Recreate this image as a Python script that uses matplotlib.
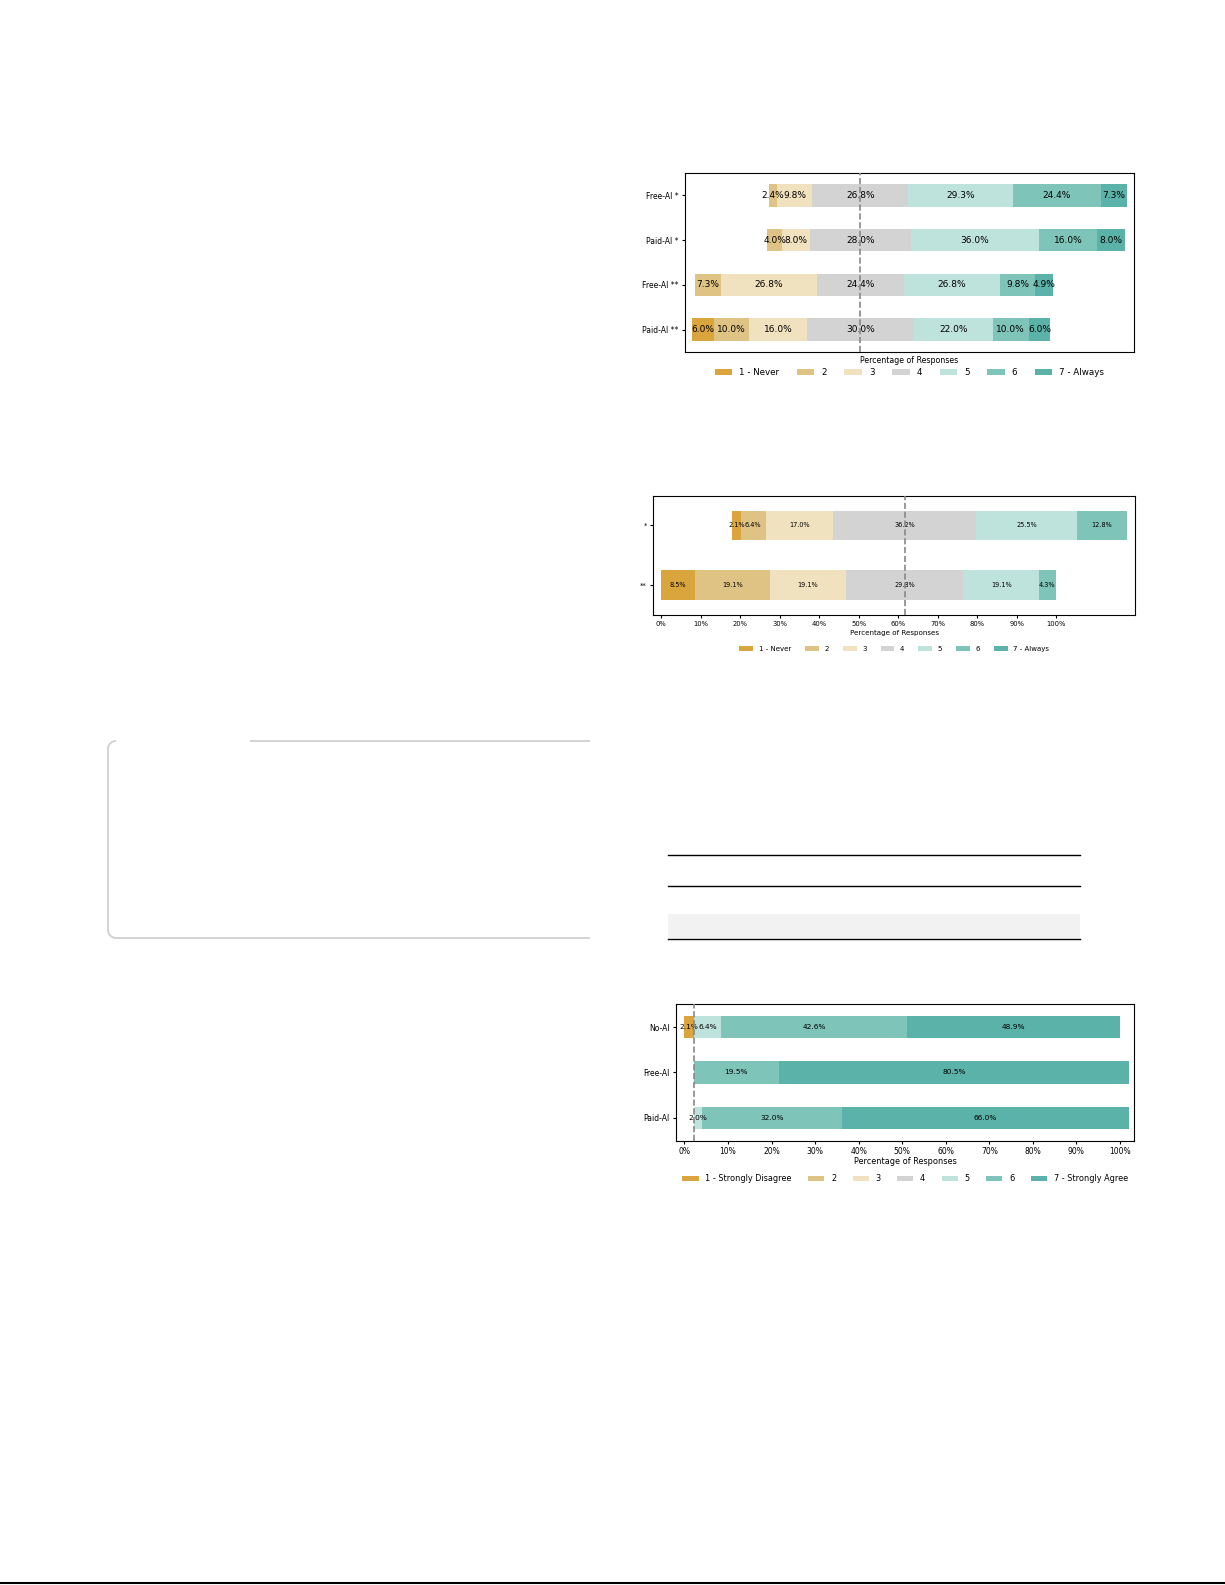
import numpy as np
import matplotlib
matplotlib.use("Agg")
import matplotlib.pyplot as plt
from matplotlib.patches import Arc, Rectangle

# Colores de la escala de 7 puntos
colores = ['#D9A53C', '#DFC385', '#F0E2BF', '#D3D3D3', '#BEE3DC', '#7EC4B9', '#5BB2A8']

# Grafico 1: frecuencia de uso
filas1 = ['Free-AI *', 'Paid-AI *', 'Free-AI **', 'Paid-AI **']
datos1 = [[0, 2.4, 9.8, 26.8, 29.3, 24.4, 7.3],
          [0, 4.0, 8.0, 28.0, 36.0, 16.0, 8.0],
          [0, 7.3, 26.8, 24.4, 26.8, 9.8, 4.9],
          [6.0, 10.0, 16.0, 30.0, 22.0, 10.0, 6.0]]
leyenda1 = ['1 - Never', '2', '3', '4', '5', '6', '7 - Always']

# Grafico 2
filas2 = ['*', '**']
datos2 = [[2.1, 6.4, 17.0, 36.2, 25.5, 12.8, 0],
          [8.5, 19.1, 19.1, 29.8, 19.1, 4.3, 0]]
leyenda2 = ['1 - Never', '2', '3', '4', '5', '6', '7 - Always']

# Grafico 3: acuerdo
filas3 = ['No-AI', 'Free-AI', 'Paid-AI']
datos3 = [[2.1, 0, 0, 0, 6.4, 42.6, 48.9],
          [0, 0, 0, 0, 0, 19.5, 80.5],
          [0, 0, 0, 0, 2.0, 32.0, 66.0]]
leyenda3 = ['1 - Strongly Disagree', '2', '3', '4', '5', '6', '7 - Strongly Agree']

ticks_x = np.arange(0, 101, 10)


def likert(ax, filas, datos, etiquetas, fs_barra, fs_tick, fs_label, fs_ley,
           con_ticks, margen_der, label_y, ley_y):
    datos = np.array(datos, dtype=float)
    # centramos cada fila en la mitad de la categoria neutral (4)
    mitad = datos[:, :3].sum(axis=1) + datos[:, 3] / 2
    centro = mitad.max()
    inicio = centro - mitad
    y = np.arange(len(filas))
    for j in range(7):
        izq = inicio + datos[:, :j].sum(axis=1)
        ax.barh(y, datos[:, j], left=izq, height=0.5, color=colores[j], label=etiquetas[j])
        for i in range(len(filas)):
            if datos[i, j] > 0:
                ax.text(izq[i] + datos[i, j] / 2, y[i], '{:.1f}%'.format(datos[i, j]),
                        ha='center', va='center', fontsize=fs_barra)
    ax.axvline(centro, color='#888888', ls='--', lw=1.2, zorder=5)
    fin = (inicio + datos.sum(axis=1)).max()
    ax.set_xlim(-2, fin + margen_der)
    ax.set_ylim(len(filas) - 0.5, -0.5)
    ax.set_yticks(y)
    ax.set_yticklabels(filas, fontsize=fs_tick)
    ax.tick_params(axis='y', length=2.5, pad=2)
    if con_ticks:
        ax.set_xticks(ticks_x)
        ax.set_xticklabels(['{}%'.format(t) for t in ticks_x], fontsize=fs_tick)
        ax.tick_params(axis='x', length=2.5, pad=2)
    else:
        ax.set_xticks([])
    ax.set_xlabel('Percentage of Responses', fontsize=fs_label)
    ax.xaxis.set_label_coords(0.5, label_y)
    ax.legend(loc='center', bbox_to_anchor=(0.5, ley_y), ncol=7, frameon=False,
              fontsize=fs_ley)


fig = plt.figure(figsize=(12.25, 15.85), dpi=100)

# Elementos de la pagina (marco, tabla vacia, linea inferior)
fondo = fig.add_axes([0, 0, 1, 1])
fondo.set_xlim(0, 1225)
fondo.set_ylim(1585, 0)
fondo.axis('off')
gris = '#d0d0d0'
fondo.plot([251, 589], [741, 741], color=gris, lw=1.3)
fondo.plot([108, 108], [749, 930], color=gris, lw=1.3)
fondo.plot([116, 589], [938, 938], color=gris, lw=1.3)
fondo.add_patch(Arc((116, 749), 16, 16, theta1=180, theta2=270, color=gris, lw=1.3))
fondo.add_patch(Arc((116, 930), 16, 16, theta1=90, theta2=180, color=gris, lw=1.3))
fondo.add_patch(Rectangle((668, 914), 412, 24, color='#f2f2f2', lw=0))
for yy in [855, 886, 939]:
    fondo.plot([668, 1080], [yy, yy], color='black', lw=1.0)
fondo.plot([0, 1225], [1583, 1583], color='black', lw=1.5)

ax1 = fig.add_axes([0.5592, 0.7779, 0.3665, 0.1129])
likert(ax1, filas1, datos1, leyenda1, 6.5, 5.5, 5.7, 6.3, False, 2, -0.02, -0.115)

ax2 = fig.add_axes([0.5333, 0.6120, 0.3935, 0.0753])
likert(ax2, filas2, datos2, leyenda2, 4.7, 4.9, 5.1, 5.0, True, 2, -0.125, -0.285)

ax3 = fig.add_axes([0.5516, 0.2803, 0.3744, 0.0861])
likert(ax3, filas3, datos3, leyenda3, 5.3, 5.5, 5.85, 5.9, True, 1.2, -0.12, -0.28)

plt.savefig('out.png', dpi=100)
